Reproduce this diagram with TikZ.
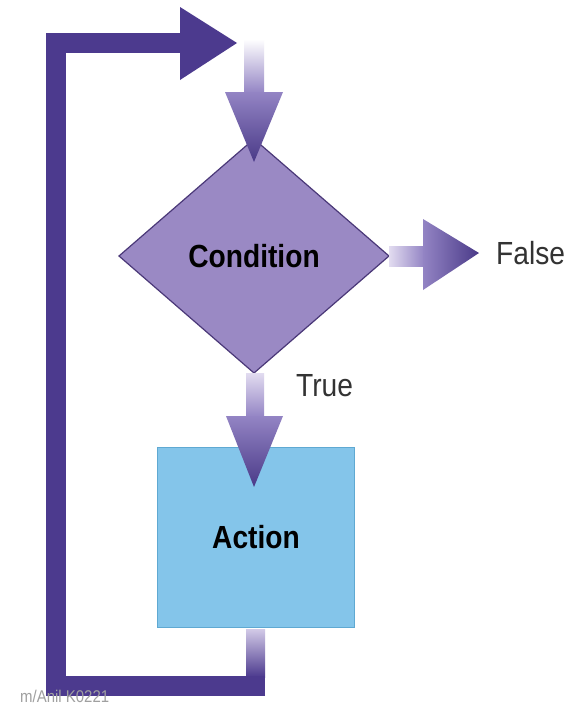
\documentclass[tikz,border=0pt]{standalone}
\usepackage{fontspec}
\usetikzlibrary{shapes.geometric,calc}
\newfontfamily\labfont[FakeStretch=0.88]{Liberation Sans}
\definecolor{loopc}{HTML}{4C3A8E}
\definecolor{arrowdark}{HTML}{4A3A88}
\definecolor{arrowmid}{HTML}{9384C4}
\definecolor{arrowlight}{HTML}{E2DCF0}
\definecolor{condfill}{HTML}{9A89C4}
\definecolor{condline}{HTML}{4A3878}
\definecolor{actfill}{HTML}{84C5EA}
\definecolor{actline}{HTML}{5FA9D2}
\definecolor{labgray}{HTML}{333333}
\definecolor{markgray}{HTML}{A0A0A0}
\begin{document}
\begin{tikzpicture}[x=1pt,y=-1pt,
  condbox/.style={diamond,draw=condline,line width=1.2pt,fill=condfill,
    minimum width=270pt,minimum height=234pt,inner sep=0pt,outer sep=0pt,
    font=\labfont\bfseries\fontsize{32}{36}\selectfont},
  actbox/.style={rectangle,draw=actline,line width=1pt,fill=actfill,
    minimum width=197pt,minimum height=180pt,inner sep=0pt,outer sep=0pt,
    font=\labfont\bfseries\fontsize{32}{36}\selectfont},
  edgelabel/.style={text=labgray,inner sep=0pt,
    font=\labfont\fontsize{32}{36}\selectfont},
  loopband/.style={draw=loopc,line width=20pt,line join=miter,line cap=butt}]
  \clip (0,0) rectangle (588,707);
  \fill[white] (0,0) rectangle (588,707);

  % decision and action blocks
  \node[condbox] (cond) at (254,256) {Condition};
  \node[actbox] (action) at (256,537) {Action};

  % loop back from the action to the top of the decision
  \coordinate (loopend) at (237,43);
  \coordinate (corner) at (55.5,43);
  \shade[top color=arrowlight!80!arrowmid,bottom color=loopc]
    ($(action.south)+(-10,2)$) rectangle ($(action.south)+(9,50)$);
  \draw[loopband] ($(action.south)+(9,59)$) -- (corner |- {$(action.south)+(0,59)$})
    -- (corner) -- ($(loopend)+(-56,0)$);
  \fill[loopc] ($(loopend)+(-57,-36)$) -- (loopend) -- ($(loopend)+(-57,37)$) -- cycle;

  % entry arrow into the decision
  \shade[top color=white,bottom color=arrowmid]
    ($(cond.north)+(-10,-100)$) rectangle ($(cond.north)+(10,-46)$);
  \shade[top color=arrowmid,bottom color=arrowdark]
    ($(cond.north)+(-29,-47)$) -- ($(cond.north)+(29,-47)$) -- ($(cond.north)+(0,23)$) -- cycle;

  % true branch into the action
  \shade[top color=arrowlight,bottom color=arrowmid]
    ($(cond.south)+(-8,0)$) rectangle ($(cond.south)+(10,44)$);
  \shade[top color=arrowmid,bottom color=arrowdark]
    ($(cond.south)+(-28,43)$) -- ($(cond.south)+(29,43)$) -- ($(action.north)+(-2,40)$) -- cycle;

  % false branch out of the decision
  \shade[left color=arrowlight,right color=arrowmid]
    ($(cond.east)+(0,-10)$) rectangle ($(cond.east)+(35,10)$);
  \shade[left color=arrowmid,right color=arrowdark]
    ($(cond.east)+(34,-37)$) -- ($(cond.east)+(90,-3)$) -- ($(cond.east)+(34,34)$) -- cycle;

  % branch labels
  \node[edgelabel,anchor=base west] (false) at ($(cond.east)+(107,8)$) {False};
  \node[edgelabel,anchor=base west] (true) at ($(cond.south)+(42,23)$) {True};

  % credit line along the bottom edge
  \node[anchor=base west,inner sep=0pt,text=markgray,
    font=\labfont\fontsize{17}{19}\selectfont] (credit) at (20,702) {m/Anil K0221};
\end{tikzpicture}
\end{document}
